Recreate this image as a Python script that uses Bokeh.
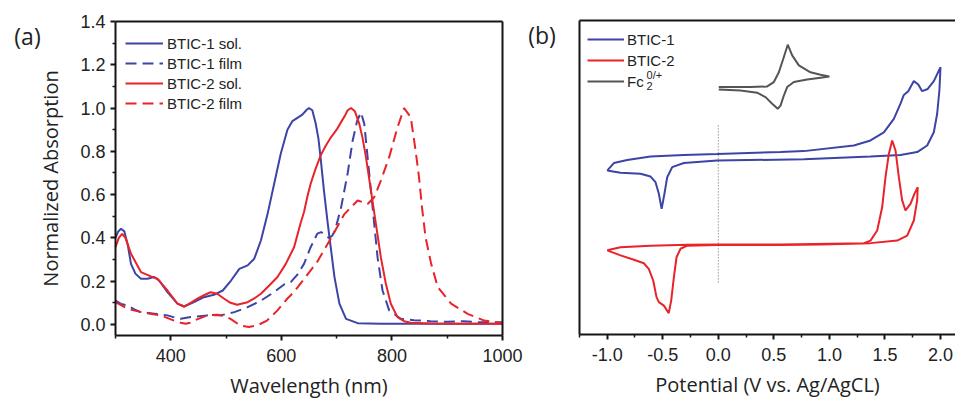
from bokeh.plotting import figure
from bokeh.layouts import row
from bokeh.models import (FixedTicker, NumeralTickFormatter, Legend, LegendItem,
                          Label, Range1d, LinearAxis)
from bokeh.embed import file_html
from bokeh.resources import INLINE

# ---------------- (a) UV-vis absorption ----------------
wl_b1_sol = [300, 305, 310, 316, 322, 328, 336, 346, 358, 370, 379, 394, 412, 424, 442, 460,
             478, 494, 509, 524, 539, 551, 563, 575, 587, 599, 611, 620, 629, 638, 645, 650,
             656, 662, 667, 671, 677, 684, 690, 696, 705, 717, 738, 780, 850, 920, 1000]
abs_b1_sol = [0.40, 0.43, 0.442, 0.43, 0.37, 0.28, 0.235, 0.211, 0.211, 0.219, 0.203, 0.149,
              0.096, 0.083, 0.103, 0.126, 0.137, 0.157, 0.203, 0.257, 0.273, 0.304, 0.388,
              0.51, 0.65, 0.79, 0.90, 0.94, 0.955, 0.97, 0.99, 1.0, 0.99, 0.93, 0.86, 0.77,
              0.62, 0.465, 0.342, 0.22, 0.096, 0.026, 0.006, 0.003, 0.003, 0.003, 0.003]

wl_b1_film = [300, 310, 322, 334, 346, 370, 394, 410, 418, 436, 466, 490, 515, 539, 563, 587,
              605, 617, 629, 641, 653, 665, 672, 680, 686, 692, 697, 708, 720, 729, 737, 744,
              750, 756, 762, 768, 774, 783, 795, 816, 840, 870, 900, 930, 960, 1000]
abs_b1_film = [0.11, 0.095, 0.088, 0.07, 0.057, 0.05, 0.042, 0.03, 0.026, 0.034, 0.042, 0.042,
               0.057, 0.08, 0.11, 0.15, 0.185, 0.196, 0.23, 0.28, 0.357, 0.42, 0.427, 0.41,
               0.40, 0.41, 0.434, 0.54, 0.70, 0.85, 0.94, 0.98, 0.927, 0.773, 0.62, 0.465,
               0.31, 0.157, 0.065, 0.026, 0.02, 0.015, 0.012, 0.015, 0.01, 0.01]

wl_b2_sol = [300, 306, 312, 318, 328, 346, 364, 376, 394, 412, 424, 436, 448, 460, 472, 484,
             496, 508, 520, 539, 551, 563, 578, 593, 608, 623, 635, 641, 647, 653, 662, 671,
             680, 690, 700, 708, 715, 720, 726, 733, 741, 747, 753, 762, 771, 780, 789, 798,
             810, 822, 834, 870, 930, 1000]
abs_b2_sol = [0.357, 0.40, 0.419, 0.40, 0.327, 0.242, 0.222, 0.211, 0.157, 0.096, 0.083, 0.10,
              0.119, 0.135, 0.149, 0.142, 0.12, 0.10, 0.091, 0.103, 0.12, 0.142, 0.18, 0.219,
              0.28, 0.357, 0.47, 0.52, 0.59, 0.65, 0.72, 0.78, 0.825, 0.866, 0.90, 0.935,
              0.965, 0.99, 1.0, 0.985, 0.927, 0.86, 0.773, 0.62, 0.465, 0.31, 0.188, 0.096,
              0.034, 0.015, 0.008, 0.004, 0.003, 0.003]

wl_b2_film = [300, 322, 346, 382, 406, 418, 427, 435, 442, 466, 484, 496, 508, 526, 541, 556,
              574, 593, 611, 617, 629, 641, 653, 665, 690, 714, 738, 756, 768, 780, 795, 810,
              822, 834, 843, 849, 855, 861, 871, 883, 907, 937, 967, 1000]
abs_b2_film = [0.103, 0.072, 0.057, 0.042, 0.018, 0.008, 0.003, 0.008, 0.018, 0.042, 0.045,
               0.04, 0.026, -0.005, -0.012, -0.005, 0.018, 0.065, 0.12, 0.135, 0.17, 0.21,
               0.25, 0.29, 0.40, 0.51, 0.573, 0.557, 0.588, 0.665, 0.773, 0.91, 1.0, 0.958,
               0.80, 0.68, 0.527, 0.40, 0.28, 0.172, 0.096, 0.049, 0.018, 0.006]

wl_ticks = [400, 600, 800, 1000]
wl_minor = [300, 500, 700, 900]
abs_ticks = [0.0, 0.2, 0.4, 0.6, 0.8, 1.0, 1.2, 1.4]
abs_minor = [0.1, 0.3, 0.5, 0.7, 0.9, 1.1, 1.3]

# ---------------- (b) cyclic voltammetry ----------------
v_btic1 = [-1.0, -0.94, -0.82, -0.61, -0.31, -0.01, 0.56, 0.77, 1.22, 1.37, 1.49, 1.58, 1.64,
           1.67, 1.71, 1.76, 1.80, 1.835, 1.885, 1.94, 2.0, 1.99, 1.97, 1.94, 1.88, 1.79, 1.64,
           1.37, 0.77, -0.01, -0.31, -0.415, -0.46, -0.485, -0.51, -0.535, -0.565, -0.61,
           -0.70, -0.88, -1.0]
i_btic1 = [5.22, 5.46, 5.56, 5.67, 5.72, 5.75, 5.81, 5.84, 6.02, 6.18, 6.44, 6.87, 7.35, 7.63,
           7.75, 8.07, 7.96, 7.75, 7.82, 8.07, 8.51, 7.77, 7.03, 6.44, 6.02, 5.81, 5.72, 5.67,
           5.58, 5.54, 5.46, 5.33, 5.01, 4.48, 4.00, 4.48, 4.85, 5.03, 5.12, 5.15, 5.22]

v_btic2 = [-1.0, -0.88, -0.61, -0.28, -0.01, 0.56, 1.31, 1.37, 1.43, 1.475, 1.505, 1.535, 1.565,
           1.595, 1.625, 1.655, 1.685, 1.73, 1.765, 1.795, 1.79, 1.76, 1.70, 1.61, 1.37, 0.92,
           0.56, -0.01, -0.28, -0.34, -0.376, -0.40, -0.424, -0.446, -0.49, -0.535, -0.556,
           -0.586, -0.626, -0.67, -0.76, -0.88, -1.0]
i_btic2 = [2.68, 2.78, 2.83, 2.86, 2.87, 2.87, 2.91, 2.99, 3.31, 4.05, 5.01, 5.75, 6.18, 5.86,
           5.01, 4.27, 3.95, 4.16, 4.48, 4.69, 4.27, 3.63, 3.15, 2.99, 2.91, 2.87, 2.85, 2.85,
           2.83, 2.73, 2.46, 1.82, 1.08, 0.68, 0.92, 1.03, 1.19, 1.72, 2.09, 2.27, 2.38, 2.52,
           2.68]

v_fc = [0.004, 0.29, 0.44, 0.50, 0.545, 0.585, 0.625, 0.665, 0.725, 0.83, 0.92, 1.0, 0.92,
        0.80, 0.68, 0.62, 0.59, 0.56, 0.535, 0.485, 0.425, 0.35, 0.20, 0.004]
i_fc = [7.88, 7.88, 7.90, 8.04, 8.35, 8.78, 9.23, 8.89, 8.57, 8.35, 8.27, 8.22, 8.18, 8.12,
        8.04, 7.88, 7.61, 7.29, 7.19, 7.35, 7.56, 7.70, 7.77, 7.80]

ref_v = [0.0, 0.0]
ref_i = [6.66, 1.66]

v_ticks = [-1.0, -0.5, 0.0, 0.5, 1.0, 1.5, 2.0]
v_minor = [-1.25, -0.75, -0.25, 0.25, 0.75, 1.25, 1.75]

BLUE = "#3C44A6"
RED = "#E8232A"
GRAY = "#555555"
AXC = "#151515"
TXT = "#222222"
TICK_FONT = "Liberation Sans"
LABEL_FONT = "Open Sans"

H = 400
# panel (a) geometry (canvas px): plot box and its data extent
W1 = 528
A_L, A_R, A_T, A_B = 115, 502, 21, 335
AX0, AX1, AY0, AY1 = 300, 1000, -0.051, 1.4
# panel (b) geometry
W2 = 427
B_L, B_T, B_B = 51, 20, 334
BX_REF0, BX_REF1, BPX0, BPX1 = -1.0, 2.0, 78.7, 412.0   # two tick values and their px
BY0, BY1 = 0.0, 10.0


def style_axis(ax, ticks, minor, fmt):
    ax.ticker = FixedTicker(ticks=ticks, minor_ticks=minor)
    ax.formatter = NumeralTickFormatter(format=fmt)
    ax.axis_line_width = 2
    ax.axis_line_color = AXC
    ax.major_tick_line_width = 2
    ax.major_tick_line_color = AXC
    ax.minor_tick_line_width = 1.5
    ax.minor_tick_line_color = AXC
    ax.major_tick_in = 0
    ax.major_tick_out = 5
    ax.minor_tick_in = 0
    ax.minor_tick_out = 3
    ax.major_label_text_font = TICK_FONT
    ax.major_label_text_font_size = "18px"
    ax.major_label_text_color = TXT
    ax.axis_label_text_font = LABEL_FONT
    ax.axis_label_text_font_size = "20px"
    ax.axis_label_text_font_style = "normal"
    ax.axis_label_text_color = TXT


def frame_line(bounds, loc):
    return LinearAxis(ticker=FixedTicker(ticks=[]), fixed_location=loc, bounds=bounds,
                      axis_line_width=2, axis_line_color=AXC,
                      major_label_text_font_size="0px")


# ---------- panel (a) ----------
sxa = (A_R - A_L) / (AX1 - AX0)
sya = (A_B - A_T) / (AY1 - AY0)
p1 = figure(width=W1, height=H,
            x_range=Range1d(AX0 - A_L / sxa, AX1 + (W1 - A_R) / sxa),
            y_range=Range1d(AY0 - (H - A_B) / sya, AY1 + A_T / sya),
            output_backend="svg", toolbar_location=None,
            x_axis_location=None, y_axis_location=None,
            min_border_left=0, min_border_right=0, min_border_top=0, min_border_bottom=0)
p1.grid.visible = False
p1.outline_line_color = None

xa = LinearAxis(fixed_location=AY0, bounds=(AX0, AX1), axis_label="Wavelength (nm)")
style_axis(xa, wl_ticks, wl_minor, "0")
xa.major_label_standoff = 8
xa.axis_label_standoff = 7
p1.add_layout(xa, "below")
ya = LinearAxis(fixed_location=AX0, bounds=(AY0, AY1), axis_label="Normalized Absorption")
style_axis(ya, abs_ticks, abs_minor, "0.0")
ya.major_label_standoff = 5
ya.axis_label_standoff = 13
p1.add_layout(ya, "left")
p1.add_layout(frame_line((AX0, AX1), AY1), "above")
p1.add_layout(frame_line((AY0, AY1), AX1), "right")

r1 = p1.line(wl_b1_sol, abs_b1_sol, line_color=BLUE, line_width=2)
r2 = p1.line(wl_b1_film, abs_b1_film, line_color=BLUE, line_width=2, line_dash="11 6")
r3 = p1.line(wl_b2_sol, abs_b2_sol, line_color=RED, line_width=2)
r4 = p1.line(wl_b2_film, abs_b2_film, line_color=RED, line_width=2, line_dash="11 6")

leg1 = Legend(items=[LegendItem(label="BTIC-1 sol.", renderers=[r1]),
                     LegendItem(label="BTIC-1 film", renderers=[r2]),
                     LegendItem(label="BTIC-2 sol.", renderers=[r3]),
                     LegendItem(label="BTIC-2 film", renderers=[r4])],
              location=(125, H - 33 - 80), margin=0, spacing=0,
              glyph_width=38, glyph_height=20, label_height=20, label_standoff=4,
              label_text_font=TICK_FONT, label_text_font_size="15px",
              label_text_color=TXT, border_line_color=None, background_fill_alpha=0)
p1.add_layout(leg1)
p1.add_layout(Label(x=AX0 - (A_L - 27) / sxa, y=AY1 - (35 - A_T) / sya, text="(a)",
                    text_font=LABEL_FONT, text_font_size="23px",
                    text_color=TXT, text_align="center", text_baseline="middle"))

# ---------- panel (b) ----------
sxb = (BPX1 - BPX0) / (BX_REF1 - BX_REF0)
syb = (B_B - B_T) / (BY1 - BY0)
bx_left = BX_REF0 - (BPX0 - B_L) / sxb
bx_right = BX_REF1 + (W2 - BPX1) / sxb
p2 = figure(width=W2, height=H,
            x_range=Range1d(BX_REF0 - BPX0 / sxb, bx_right),
            y_range=Range1d(BY0 - (H - B_B) / syb, BY1 + B_T / syb),
            output_backend="svg", toolbar_location=None,
            x_axis_location=None, y_axis_location=None,
            min_border_left=0, min_border_right=0, min_border_top=0, min_border_bottom=0)
p2.grid.visible = False
p2.outline_line_color = None

xb = LinearAxis(fixed_location=BY0, bounds=(bx_left, bx_right),
                axis_label="Potential (V vs. Ag/AgCL)")
style_axis(xb, v_ticks, v_minor, "0.0")
xb.major_label_standoff = 8
xb.axis_label_standoff = 7
p2.add_layout(xb, "below")
p2.add_layout(frame_line((BY0, BY1), bx_left), "left")
p2.add_layout(frame_line((bx_left, bx_right), BY1), "above")

p2.line(ref_v, ref_i, line_color="#666666", line_width=1, line_dash="1 2")
s1 = p2.line(v_btic1, i_btic1, line_color=BLUE, line_width=2)
s2 = p2.line(v_btic2, i_btic2, line_color=RED, line_width=2)
s3 = p2.line(v_fc, i_fc, line_color=GRAY, line_width=2)

leg2 = Legend(items=[LegendItem(label="BTIC-1", renderers=[s1]),
                     LegendItem(label="BTIC-2", renderers=[s2]),
                     LegendItem(label="Fc", renderers=[s3])],
              location=(59, H - 29 - 62), margin=0, spacing=1,
              glyph_width=37, glyph_height=20, label_height=20, label_standoff=3,
              label_text_font=TICK_FONT, label_text_font_size="15px",
              label_text_color=TXT, border_line_color=None, background_fill_alpha=0)
p2.add_layout(leg2)
p2.add_layout(Label(x=-0.646, y=8.26, text="0/+", text_font=TICK_FONT, text_font_size="11px",
                    text_color=TXT, text_align="left", text_baseline="middle"))
p2.add_layout(Label(x=-0.646, y=7.90, text="2", text_font=TICK_FONT, text_font_size="11px",
                    text_color=TXT, text_align="left", text_baseline="middle"))
p2.add_layout(Label(x=BX_REF0 - (BPX0 - 13.5) / sxb, y=BY1 - (34 - B_T) / syb, text="(b)",
                    text_font=LABEL_FONT, text_font_size="23px",
                    text_color=TXT, text_align="center", text_baseline="middle"))

layout = row(p1, p2)
open("out.html", "w").write(file_html(layout, INLINE))
